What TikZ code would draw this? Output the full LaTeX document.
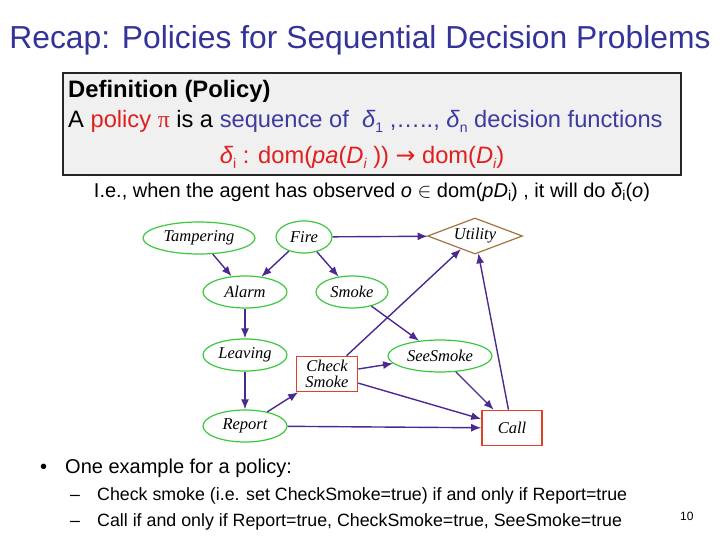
\documentclass[tikz,border=0pt]{standalone}
\usepackage{fontspec}
\setmainfont{Liberation Sans}
\newfontfamily\timesfont{Liberation Serif}
\newfontfamily\symfont{DejaVu Sans}
\usetikzlibrary{shapes.geometric, arrows.meta, positioning}
\definecolor{titleBlue}{HTML}{333399}
\definecolor{defRed}{HTML}{E0201E}
\definecolor{defBlue}{HTML}{3C3CA0}
\definecolor{edgePurple}{HTML}{4B2A90}
\definecolor{chanceGreen}{HTML}{3CC83C}
\definecolor{utilBrown}{HTML}{A0743C}
\definecolor{declRed}{HTML}{E04028}
\newcommand{\fsz}[1]{\fontsize{#1}{#1}\selectfont}
\newcommand{\lsub}[1]{\raisebox{-0.35ex}{\fontsize{14}{14}\selectfont #1}}

\begin{document}
\begin{tikzpicture}[x=1pt, y=-1pt,
    chance/.style={ellipse, draw=chanceGreen, line width=1.2pt, inner sep=0pt, minimum height=32pt,
      font=\timesfont\itshape\fsz{16.5}},
    decide/.style={rectangle, draw=declRed, line width=1.6pt, inner sep=0pt, minimum width=61pt,
      minimum height=35pt, align=center, font=\timesfont\itshape\fsz{16.5}},
    util/.style={diamond, draw=utilBrown, line width=1.2pt, aspect=2.6, inner sep=0pt,
      minimum width=95pt, minimum height=36pt, font=\timesfont\itshape\fsz{16.5}},
    parc/.style={-{Latex[length=10pt,width=8pt]}, edgePurple, line width=1.4pt},
    txt/.style={anchor=base west, inner sep=0pt}
  ]
  \useasboundingbox (0,0) rectangle (720,540);

  % title and definition box
  \node[font=\fsz{31.8}, text=titleBlue] (title) at (360,40) {Recap: Policies for Sequential Decision Problems};
  \node[draw=black!85, line width=1.6pt, fill=gray!12, minimum width=618pt, minimum height=102pt,
    anchor=north west, inner sep=0pt] (defbox) at (62,72) {};
  \node[txt, font=\bfseries\fsz{23.8}] (defhead) at (68,98) {Definition (Policy)};
  \node[txt, font=\fsz{23.7}] (defline) at (68,128) {A \textcolor{defRed}{policy {\timesfont π}} is a
    \textcolor{defBlue}{sequence of \ \textit{δ}\lsub{1} ,….., \textit{δ}\lsub{n} decision functions}};
  \node[anchor=base, inner sep=0pt, font=\fsz{23.7}, text=defRed] (deffun) at (362,164)
    {\textit{δ}\lsub{i} : dom(\textit{pa}(\textit{D\lsub{i}} )) {\symfont →} dom(\textit{D\lsub{i}})};
  \node[anchor=base, inner sep=0pt, font=\fsz{20}] (ieline) at (372,197)
    {I.e., when the agent has observed \textit{o} $\in$ dom(\textit{pD}\lsub{i}) , it will do \textit{δ}\lsub{i}(\textit{o})};

  % decision network
  \node[chance, minimum width=112pt] (tamper) at (199,238) {Tampering};
  \node[chance, minimum width=56pt] (fire) at (304,237) {Fire};
  \node[util] (utility) at (475,236) {Utility};
  \node[chance, minimum width=84pt] (alarm) at (245,292) {Alarm};
  \node[chance, minimum width=72pt] (smoke) at (352,292) {Smoke};
  \node[chance, minimum width=84pt] (leaving) at (245,355) {Leaving};
  \node[decide] (check) at (327,374) {Check\\Smoke};
  \node[chance, minimum width=104pt] (seesmoke) at (440,356) {SeeSmoke};
  \node[chance, minimum width=84pt] (report) at (245,426) {Report};
  \node[decide, minimum width=60pt] (call) at (512,428) {Call};

  \draw[parc] (tamper) -- (alarm);
  \draw[parc] (fire) -- (alarm);
  \draw[parc] (fire) -- (smoke);
  \draw[parc] (fire) -- (utility);
  \draw[parc] (alarm) -- (leaving);
  \draw[parc] (leaving) -- (report);
  \draw[parc] (smoke) -- (seesmoke);
  \draw[parc] (report) -- (check);
  \draw[parc] (check) -- (seesmoke);
  \draw[parc] (check) -- (utility);
  \draw[parc] (check) -- (call);
  \draw[parc] (seesmoke) -- (call);
  \draw[parc] (report) -- (call);
  \draw[parc] (call) -- (utility);

  % example policy
  \node[txt, font=\fsz{20}] (bul) at (40,473) {•};
  \node[txt, font=\fsz{20}] (ex) at (65,473) {One example for a policy:};
  \node[txt, font=\fsz{17.8}] (dashone) at (70,500) {–};
  \node[txt, font=\fsz{17.8}] (ruleone) at (97,500) {Check smoke (i.e. set CheckSmoke=true) if and only if Report=true};
  \node[txt, font=\fsz{17.8}] (dashtwo) at (70,526) {–};
  \node[txt, font=\fsz{17.8}] (ruletwo) at (97,526) {Call if and only if Report=true, CheckSmoke=true, SeeSmoke=true};
  \node[txt, font=\fsz{12}] (pageno) at (680,520) {10};
\end{tikzpicture}
\end{document}
